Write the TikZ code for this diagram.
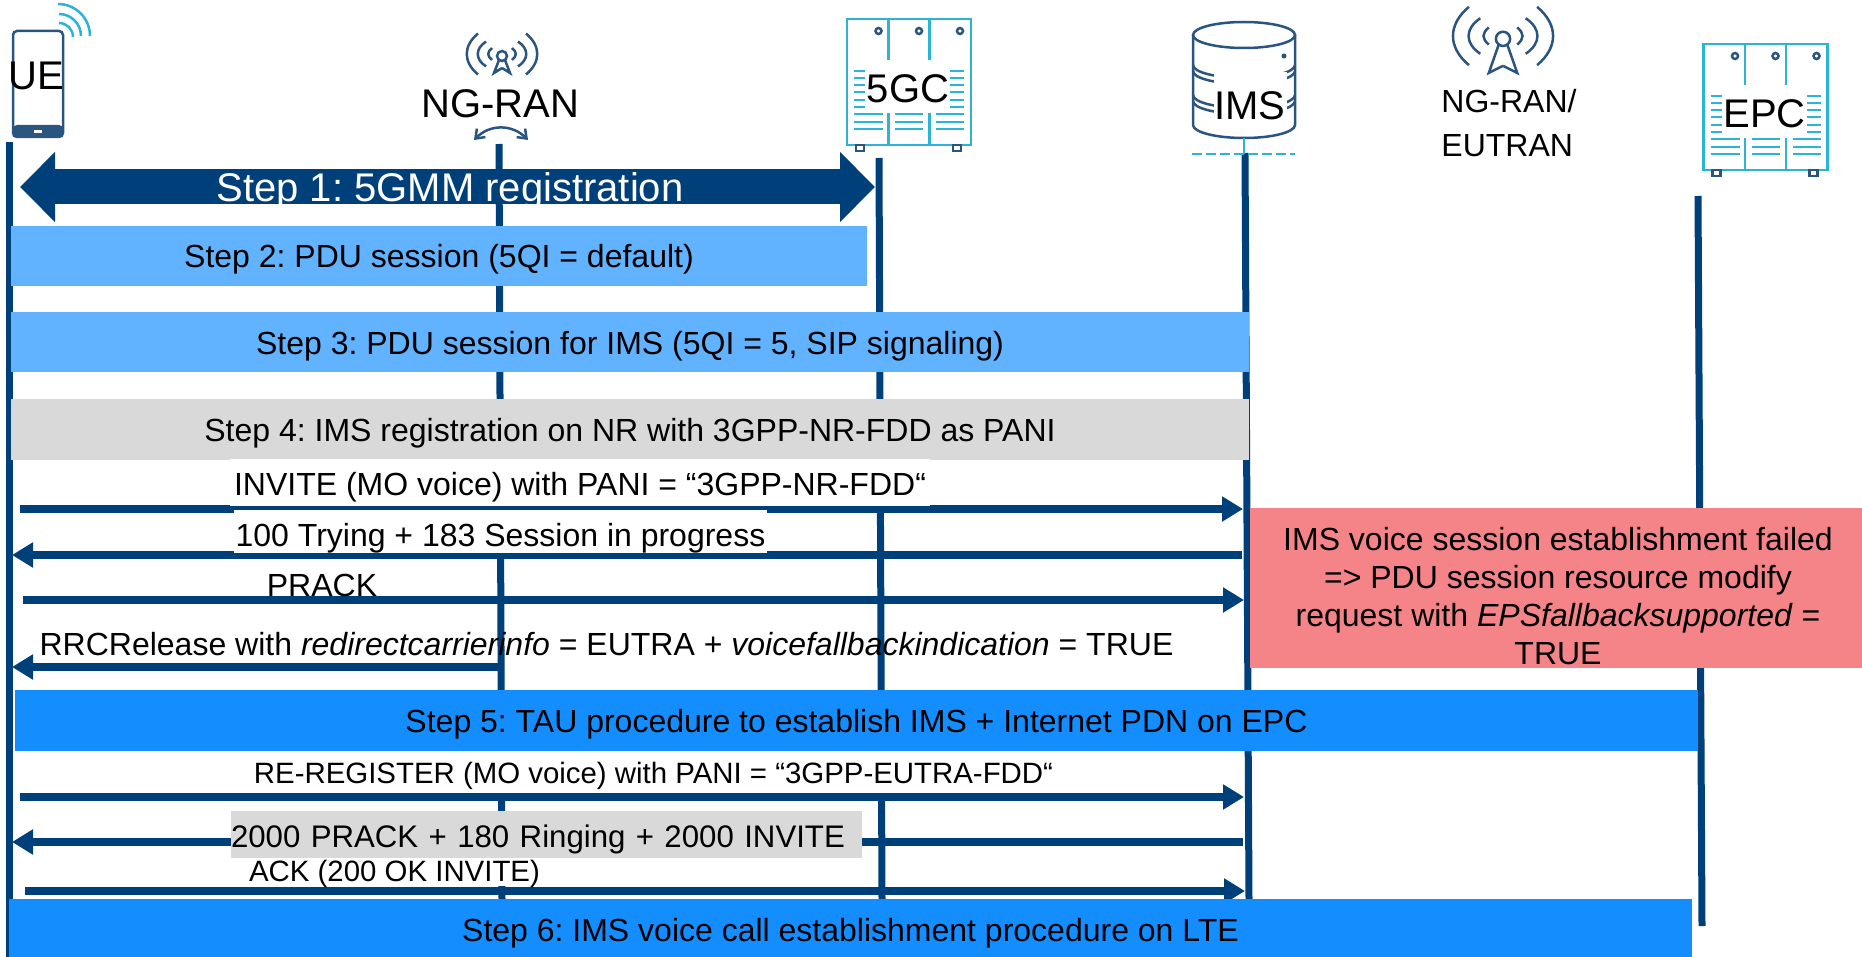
\documentclass[tikz,border=0pt]{standalone}
\usepackage{fontspec}
\setmainfont{Liberation Sans}
\usepackage{tikz}
\usetikzlibrary{arrows.meta}
\usepackage{tkz-euclide}
\frenchspacing

\definecolor{navyline}{HTML}{00407A}
\definecolor{iconblue}{HTML}{2A5580}
\definecolor{iconcyan}{HTML}{2BB3D8}
\definecolor{lightstep}{HTML}{61B2FF}
\definecolor{deepstep}{HTML}{148EFF}
\definecolor{greystep}{HTML}{D9D9D9}
\definecolor{failred}{HTML}{F58488}

\tikzset{
  lifeline/.style={color=navyline, line width=3.5pt, line cap=butt},
  msgright/.style={color=navyline, line width=4pt, line cap=butt, -{Triangle[length=10.5pt,width=12pt]}},
  msgleft/.style={color=navyline, line width=4pt, line cap=butt, {Triangle[length=10.5pt,width=12pt]}-},
  bigarrow/.style={color=navyline, line width=17.5pt, line cap=butt, {Triangle[length=17.5pt,width=34pt]}-{Triangle[length=17.5pt,width=34pt]}},
  stepbox/.style={inner sep=0pt, text depth=0pt, text height=12pt, font=\fontsize{16}{19}\selectfont},
  msgtext/.style={inner sep=0pt, font=\fontsize{16}{19}\selectfont},
  msglabel/.style={msgtext, fill=white, text depth=0pt},
  iconlabel/.style={inner sep=0pt, font=\fontsize{20}{24}\selectfont},
  cyanline/.style={iconcyan, line width=1.25pt, line cap=butt},
  iconline/.style={iconblue, line width=1.25pt},
}

\newcommand{\cabinet}[4]{
  \begin{scope}[shift={(#1,#2)}]
    \draw[cyanline] (0,0) rectangle (124,126);
    \foreach \xd in {41.5,82.5} {
      \draw[cyanline] (\xd,0) -- (\xd,41) (\xd,94) -- (\xd,126);
    }
    \foreach \xd in {31.5,72,113} {
      \draw[iconline] (\xd,12) circle (3);
    }
    \foreach \yv in {95,103,110} {
      \draw[cyanline] (7,\yv) -- (36,\yv) (48,\yv) -- (76,\yv) (89,\yv) -- (117,\yv);
    }
    \foreach \yv in {52,59,66,73,81,88} {
      \draw[cyanline] (7,\yv) -- (18,\yv) (103,\yv) -- (117,\yv);
    }
    \draw[iconline] (9,126) rectangle (17,132) (106,126) rectangle (114,132);
    \node[iconlabel] (#3) at (61,70) {#4};
  \end{scope}
}

\newcommand{\antenna}[5]{
  \begin{scope}[shift={(#1,#2)}, scale=#3]
    \foreach \s in {-1,1} {
      \draw[iconline] (\s*24,-20.5) .. controls (\s*39,-8) and (\s*39,8) .. (\s*24,20.5);
      \draw[iconline] (\s*16,-12.5) .. controls (\s*27,-5) and (\s*27,5) .. (\s*16,12.5);
      \draw[iconline] (\s*10,-6) .. controls (\s*15,-2) and (\s*15,2) .. (\s*10,6);
      \draw[iconline] (\s*3,6) -- (\s*#5,#4) -- (0,#4-5);
    }
    \draw[iconline] (0,2) circle (5);
  \end{scope}
}

\begin{document}
\begin{tikzpicture}[x=.5pt, y=-.5pt]
	\useasboundingbox (0,0) rectangle (1862,957);
	
	\tkzDefPoints{9/142/UEa,9/957/UEb,499/144/RANa,502/900/RANb,879/158/COREa,882/900/COREb}
	\tkzDefPoints{1245/153/IMSa,1249/900/IMSb,1698/196/EPCa,1702/926/EPCb}
	\tkzDrawSegments[lifeline](UEa,UEb RANa,RANb COREa,COREb IMSa,IMSb EPCa,EPCb)
	
	\draw[iconline, rounded corners=2pt] (13,31) rectangle (63,137);
	\fill[iconblue, rounded corners=2pt] (13,125) rectangle (63,137);
	\fill[white] (34,130) rectangle (42,133);
	\draw[cyanline] (58,4) arc[start angle=-90, end angle=0, radius=32];
	\draw[cyanline] (59,14) arc[start angle=-90, end angle=0, radius=22];
	\draw[cyanline] (59,23) arc[start angle=-90, end angle=0, radius=14];
	\node[iconlabel] (ue) at (36,76) {UE};
	
	\antenna{502}{54}{1}{19}{8}
	\node[iconlabel] (ran) at (500,104) {NG-RAN};
	\tkzDefPoints{474/140/turnl,528/140/turnr}
	\draw[iconline, {Straight Barb[length=4pt,width=6pt]}-{Straight Barb[length=4pt,width=6pt]}] (turnl) .. controls (490,124) and (512,124) .. (turnr);
	
	\cabinet{847}{19}{core}{5GC}
	\cabinet{1703.5}{44}{epc}{EPC}
	
	\draw[iconline] (1244,35) ellipse [x radius=51, y radius=13];
	\draw[iconline] (1193,35) -- (1193,125) arc[start angle=180, end angle=0, x radius=51, y radius=13] -- (1295,35);
	\foreach \yb in {65,71,95,101} {
		\draw[iconline] (1193,\yb) arc[start angle=180, end angle=0, x radius=51, y radius=13];
	}
	\fill[iconblue] (1284,56) circle (2.5);
	\node[iconlabel, fill=white, minimum width=36.5pt, minimum height=28pt, text height=19.2pt, text depth=0pt] (ims) at (1250,100) {IMS};
	\tkzDefPoints{1244/138/stema,1244/154/stemb,1192/154/rowa,1295/154/rowb}
	\draw[cyanline] (stema) -- (stemb);
	\draw[cyanline, dash pattern=on 5pt off 2pt] (rowa) -- (rowb);
	
	\antenna{1503}{36}{1.42}{26}{10}
	\node[msgtext, anchor=west] (enba) at (1441,101) {NG-RAN/};
	\node[msgtext, anchor=west] (enbb) at (1441,146) {EUTRAN};
	
	\tkzDefPoints{20/187/bigl,875/187/bigr}
	\tkzDrawSegment[bigarrow](bigl,bigr)
	\node[iconlabel, white] (stepone) at (450,191.5) {Step 1: 5GMM registration};
	
	\node[stepbox, fill=lightstep, minimum width=428pt, minimum height=30pt] (steptwo) at (439,256) {Step 2: PDU session (5QI = default)};
	\node[stepbox, fill=lightstep, minimum width=619pt, minimum height=30pt] (stepthree) at (630,342) {Step 3: PDU session for IMS (5QI = 5, SIP signaling)};
	\node[stepbox, fill=greystep, minimum width=619pt, minimum height=30.5pt] (stepfour) at (630,429.5) {Step 4: IMS registration on NR with 3GPP-NR-FDD as PANI};
	
	\tkzDefPoints{20/509/inva,1243/509/invb,12/555/tryb,1242/555/trya,23/600/praa,1244/600/prab,12/667/rrcb,498/667/rrca}
	\tkzDrawSegments[msgright](inva,invb praa,prab)
	\tkzDrawSegments[msgleft](tryb,trya rrcb,rrca)
	\node[msglabel, text height=13.3pt, minimum width=350pt, minimum height=23.5pt] (invite) at (580,482.5) {INVITE (MO voice) with PANI = “3GPP-NR-FDD“};
	\node[msglabel, text height=14.5pt, minimum width=266.5pt, minimum height=21.5pt] (trying) at (500.5,531.5) {100 Trying + 183 Session in progress};
	\node[msgtext] (prack) at (322,585) {PRACK};
	\node[msgtext] (release) at (606.5,644) {RRCRelease with \textit{redirectcarrierinfo} = EUTRA + \textit{voicefallbackindication} = TRUE};
	
	\node[stepbox, fill=failred, minimum width=306pt, minimum height=80pt] (failbox) at (1556,588) {};
	\node[msgtext, align=center] (failtext) at (1558,596) {IMS voice session establishment failed\\=> PDU session resource modify\\request with \textit{EPSfallbacksupported} =\\TRUE};
	
	\node[stepbox, fill=deepstep, minimum width=841.5pt, minimum height=30.5pt] (stepfive) at (856.5,720.5) {Step 5: TAU procedure to establish IMS + Internet PDN on EPC};
	
	\tkzDefPoints{20/797/rega,1244/797/regb,12/842/ringb,1243/842/ringa,25/891/acka,1245/891/ackb}
	\tkzDrawSegments[msgright](rega,regb acka,ackb)
	\tkzDrawSegments[msgleft](ringb,ringa)
	\node[msglabel, text height=11.5pt, font=\fontsize{14.7}{18}\selectfont, minimum width=404.5pt, minimum height=21pt] (register) at (653.5,772) {RE-REGISTER (MO voice) with PANI = “3GPP-EUTRA-FDD“};
	\node[msglabel, text height=13.3pt, fill=greystep, font=\fontsize{15.6}{19}\selectfont, minimum width=315.5pt, minimum height=23.5pt, text width=315.5pt, align=left] (ringing) at (546.5,834.5) {2000 PRACK + 180 Ringing + 2000 INVITE};
	\node[msglabel, text height=9pt, font=\fontsize{14.7}{18}\selectfont, minimum width=145.5pt, minimum height=14pt] (ack) at (394.5,872) {ACK (200 OK INVITE)};
	
	\node[stepbox, text height=13.3pt, fill=deepstep, minimum width=841.5pt, minimum height=29pt] (stepsix) at (850.5,928) {Step 6: IMS voice call establishment procedure on LTE};
\end{tikzpicture}
\end{document}
